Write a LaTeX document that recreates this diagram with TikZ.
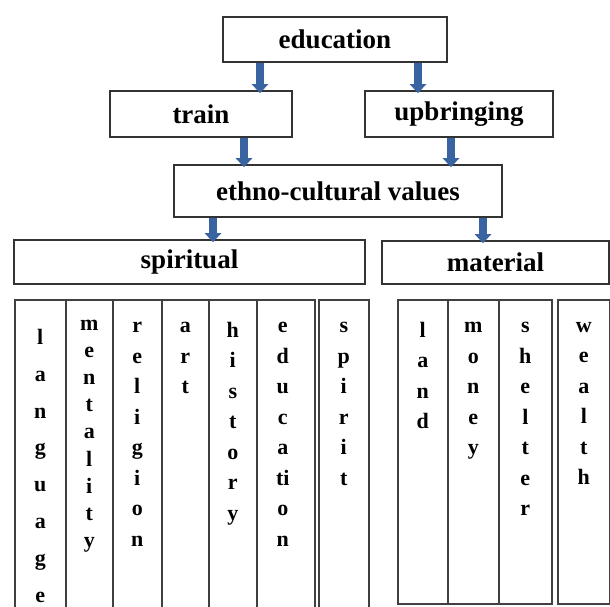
\documentclass[tikz,border=0pt]{standalone}
\usepackage{fontspec}
\setmainfont{Liberation Serif}
\usetikzlibrary{arrows.meta}
\definecolor{arrowblue}{RGB}{58,99,162}
\tikzset{
  box/.style={draw=black!80, line width=1.6pt, inner sep=0pt,
    font={\fontsize{27}{30}\selectfont\bfseries}},
  col/.style={draw=black!75, line width=1.6pt, inner sep=0pt, anchor=north west},
  letters/.style={inner sep=0pt, anchor=north, align=center,
    font={\fontsize{22}{30.5}\selectfont\bfseries\lineskiplimit=-30pt},
    execute at begin node=\rule{0pt}{16pt}},
  flow/.style={draw=arrowblue, line width=8pt,
    -{Triangle[width=16pt,length=9pt]}, shorten >=-3pt}
}
\begin{document}
\begin{tikzpicture}[x=1pt,y=-1pt]
\useasboundingbox (0,0) rectangle (610,606);
% top of the tree
\node[box, minimum width=224, minimum height=45] (edu) at (335,39.5) {education};
\node[box, minimum width=182, minimum height=46] (train) at (201,114) {train};
\node[box, minimum width=188, minimum height=46] (upbr) at (459,114) {upbringing};
\node[box, minimum width=328, minimum height=52] (ethno) at (338,191) {ethno-cultural values};
\node[box, minimum width=351, minimum height=44] (spirl) at (189.5,262) {spiritual};
\node[box, minimum width=227, minimum height=43] (matrl) at (495.5,262.5) {material};
% arrows
\draw[flow] ([xshift=-75pt]edu.south) -- ([xshift=59pt]train.north);
\draw[flow] ([xshift=83pt]edu.south) -- ([xshift=-41pt]upbr.north);
\draw[flow] ([xshift=43pt]train.south) -- ([xshift=-94pt]ethno.north);
\draw[flow] ([xshift=-8pt]upbr.south) -- ([xshift=113pt]ethno.north);
\draw[flow] ([xshift=-125pt]ethno.south) -- ([xshift=23.5pt]spirl.north);
\draw[flow] ([xshift=145pt]ethno.south) -- ([xshift=-12.5pt]matrl.north);
% spiritual columns
\node[col, minimum width=51, minimum height=313] (lang) at (14,299) {};
\node[col, minimum width=47, minimum height=313] (ment) at (65,299) {};
\node[col, minimum width=49, minimum height=313] (relig) at (112,299) {};
\node[col, minimum width=47, minimum height=313] (art) at (161,299) {};
\node[col, minimum width=48, minimum height=313] (hist) at (208,299) {};
\node[col, minimum width=58, minimum height=313] (educ) at (256,299) {};
\node[col, minimum width=50, minimum height=313] (spir) at (318,299) {};
% material columns
\node[col, minimum width=50, minimum height=304] (land) at (397,299) {};
\node[col, minimum width=51, minimum height=304] (money) at (447,299) {};
\node[col, minimum width=53, minimum height=304] (shelt) at (498,299) {};
\node[col, minimum width=52, minimum height=304] (wealth) at (557,299) {};
% letters
\node[letters, font={\fontsize{22}{36.8}\selectfont\bfseries\lineskiplimit=-30pt}] (langtxt) at ([yshift=-30pt]lang.north) {l\\a\\n\\g\\u\\a\\g\\e};
\node[letters, font={\fontsize{22}{27.1}\selectfont\bfseries\lineskiplimit=-30pt}] (menttxt) at ([yshift=-21pt]ment.north) {m\\e\\n\\t\\a\\l\\i\\t\\y};
\node[letters] (religtxt) at ([yshift=-23pt]relig.north) {r\\e\\l\\i\\g\\i\\o\\n};
\node[letters] (arttxt) at ([yshift=-23pt]art.north) {a\\r\\t};
\node[letters] (histtxt) at ([yshift=-23pt]hist.north) {h\\i\\s\\t\\o\\r\\y};
\node[letters] (eductxt) at ([xshift=-3pt,yshift=-23pt]educ.north) {e\\d\\u\\c\\a\\ti\\o\\n};
\node[letters] (spirtxt) at ([yshift=-23pt]spir.north) {s\\p\\i\\r\\i\\t};
\node[letters] (landtxt) at ([yshift=-23pt]land.north) {l\\a\\n\\d};
\node[letters] (moneytxt) at ([yshift=-23pt]money.north) {m\\o\\n\\e\\y};
\node[letters] (shelttxt) at ([yshift=-23pt]shelt.north) {s\\h\\e\\l\\t\\e\\r};
\node[letters] (wealthtxt) at ([yshift=-23pt]wealth.north) {w\\e\\a\\l\\t\\h};
\end{tikzpicture}
\end{document}
